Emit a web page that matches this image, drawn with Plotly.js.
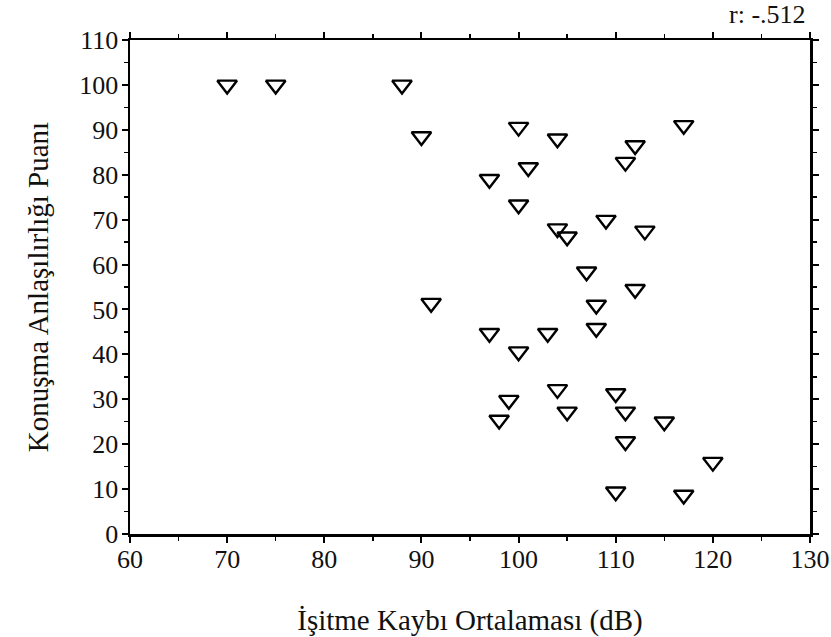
<!DOCTYPE html>
<html>
<head>
<meta charset="utf-8">
<script src="https://cdn.plot.ly/plotly-3.0.1.min.js"></script>
<style>html,body{margin:0;padding:0;background:#fff;}#chart{width:831px;height:637px;}</style>
</head>
<body>
<div id="chart"></div>
<script>
// Hearing loss average (dB)
const hearingLoss = [70, 75, 88, 90, 100, 104, 117, 112, 111, 101, 97, 100, 104, 105, 109, 113, 107, 112, 91, 108, 97, 103, 108, 100, 104, 110, 99, 98, 105, 111, 115, 111, 120, 110, 117];
// Speech intelligibility score
const speechScore = [100, 100, 100, 88.5, 90.6, 88, 91, 86.5, 82.8, 81.6, 79, 73.3, 68, 66.2, 69.9, 67.5, 58.4, 54.5, 51.4, 51, 44.7, 44.7, 45.8, 40.6, 32.2, 31.3, 29.8, 25.4, 27.2, 27.2, 25, 20.6, 16, 9.4, 8.7];
const xTickVals = [60, 70, 80, 90, 100, 110, 120, 130];
const yTickVals = [0, 10, 20, 30, 40, 50, 60, 70, 80, 90, 100, 110];
const xTitle = 'İşitme Kaybı Ortalaması (dB)';
const yTitle = 'Konuşma Anlaşılırlığı Puanı';
const rLabel = 'r: -.512';

const serif = 'Liberation Serif, DejaVu Serif, serif';

const trace = {
  x: hearingLoss,
  y: speechScore,
  type: 'scatter',
  mode: 'markers',
  marker: {symbol: 'triangle-down-open', size: 17, color: '#000', line: {width: 2.4, color: '#000'}},
  hoverinfo: 'x+y'
};

const axisCommon = {
  showgrid: false,
  zeroline: false,
  showline: true,
  linecolor: '#000',
  linewidth: 2.5,
  mirror: 'ticks',
  ticks: 'outside',
  ticklen: 6,
  tickwidth: 2,
  tickcolor: '#000',
  tickfont: {family: serif, size: 26, color: '#111'},
  minor: {ticks: 'outside', ticklen: 4, tickwidth: 1.5, tickcolor: '#000', dtick: 5}
};

const layout = {
  width: 831,
  height: 637,
  paper_bgcolor: '#fff',
  plot_bgcolor: '#fff',
  showlegend: false,
  margin: {l: 130, r: 21, t: 40, b: 103},
  xaxis: Object.assign({}, axisCommon, {
    range: [60, 130],
    tickvals: xTickVals,
    ticktext: xTickVals.map(String),
    ticklabelstandoff: -6,
    title: {text: xTitle, font: {family: serif, size: 29, color: '#111'}, standoff: 40}
  }),
  yaxis: Object.assign({}, axisCommon, {
    range: [0, 110],
    tickvals: yTickVals,
    ticktext: yTickVals.map(String),
    ticklabelstandoff: -2,
    title: {text: yTitle, font: {family: serif, size: 29, color: '#111'}, standoff: 22}
  }),
  annotations: [{
    text: rLabel,
    xref: 'paper', yref: 'paper',
    x: 1.0, y: 1.0, xanchor: 'right', yanchor: 'bottom', yshift: 9, xshift: -2,
    showarrow: false,
    font: {family: serif, size: 26, color: '#111'}
  }]
};

Plotly.newPlot('chart', [trace], layout, {displayModeBar: false, staticPlot: true});
</script>
</body>
</html>
